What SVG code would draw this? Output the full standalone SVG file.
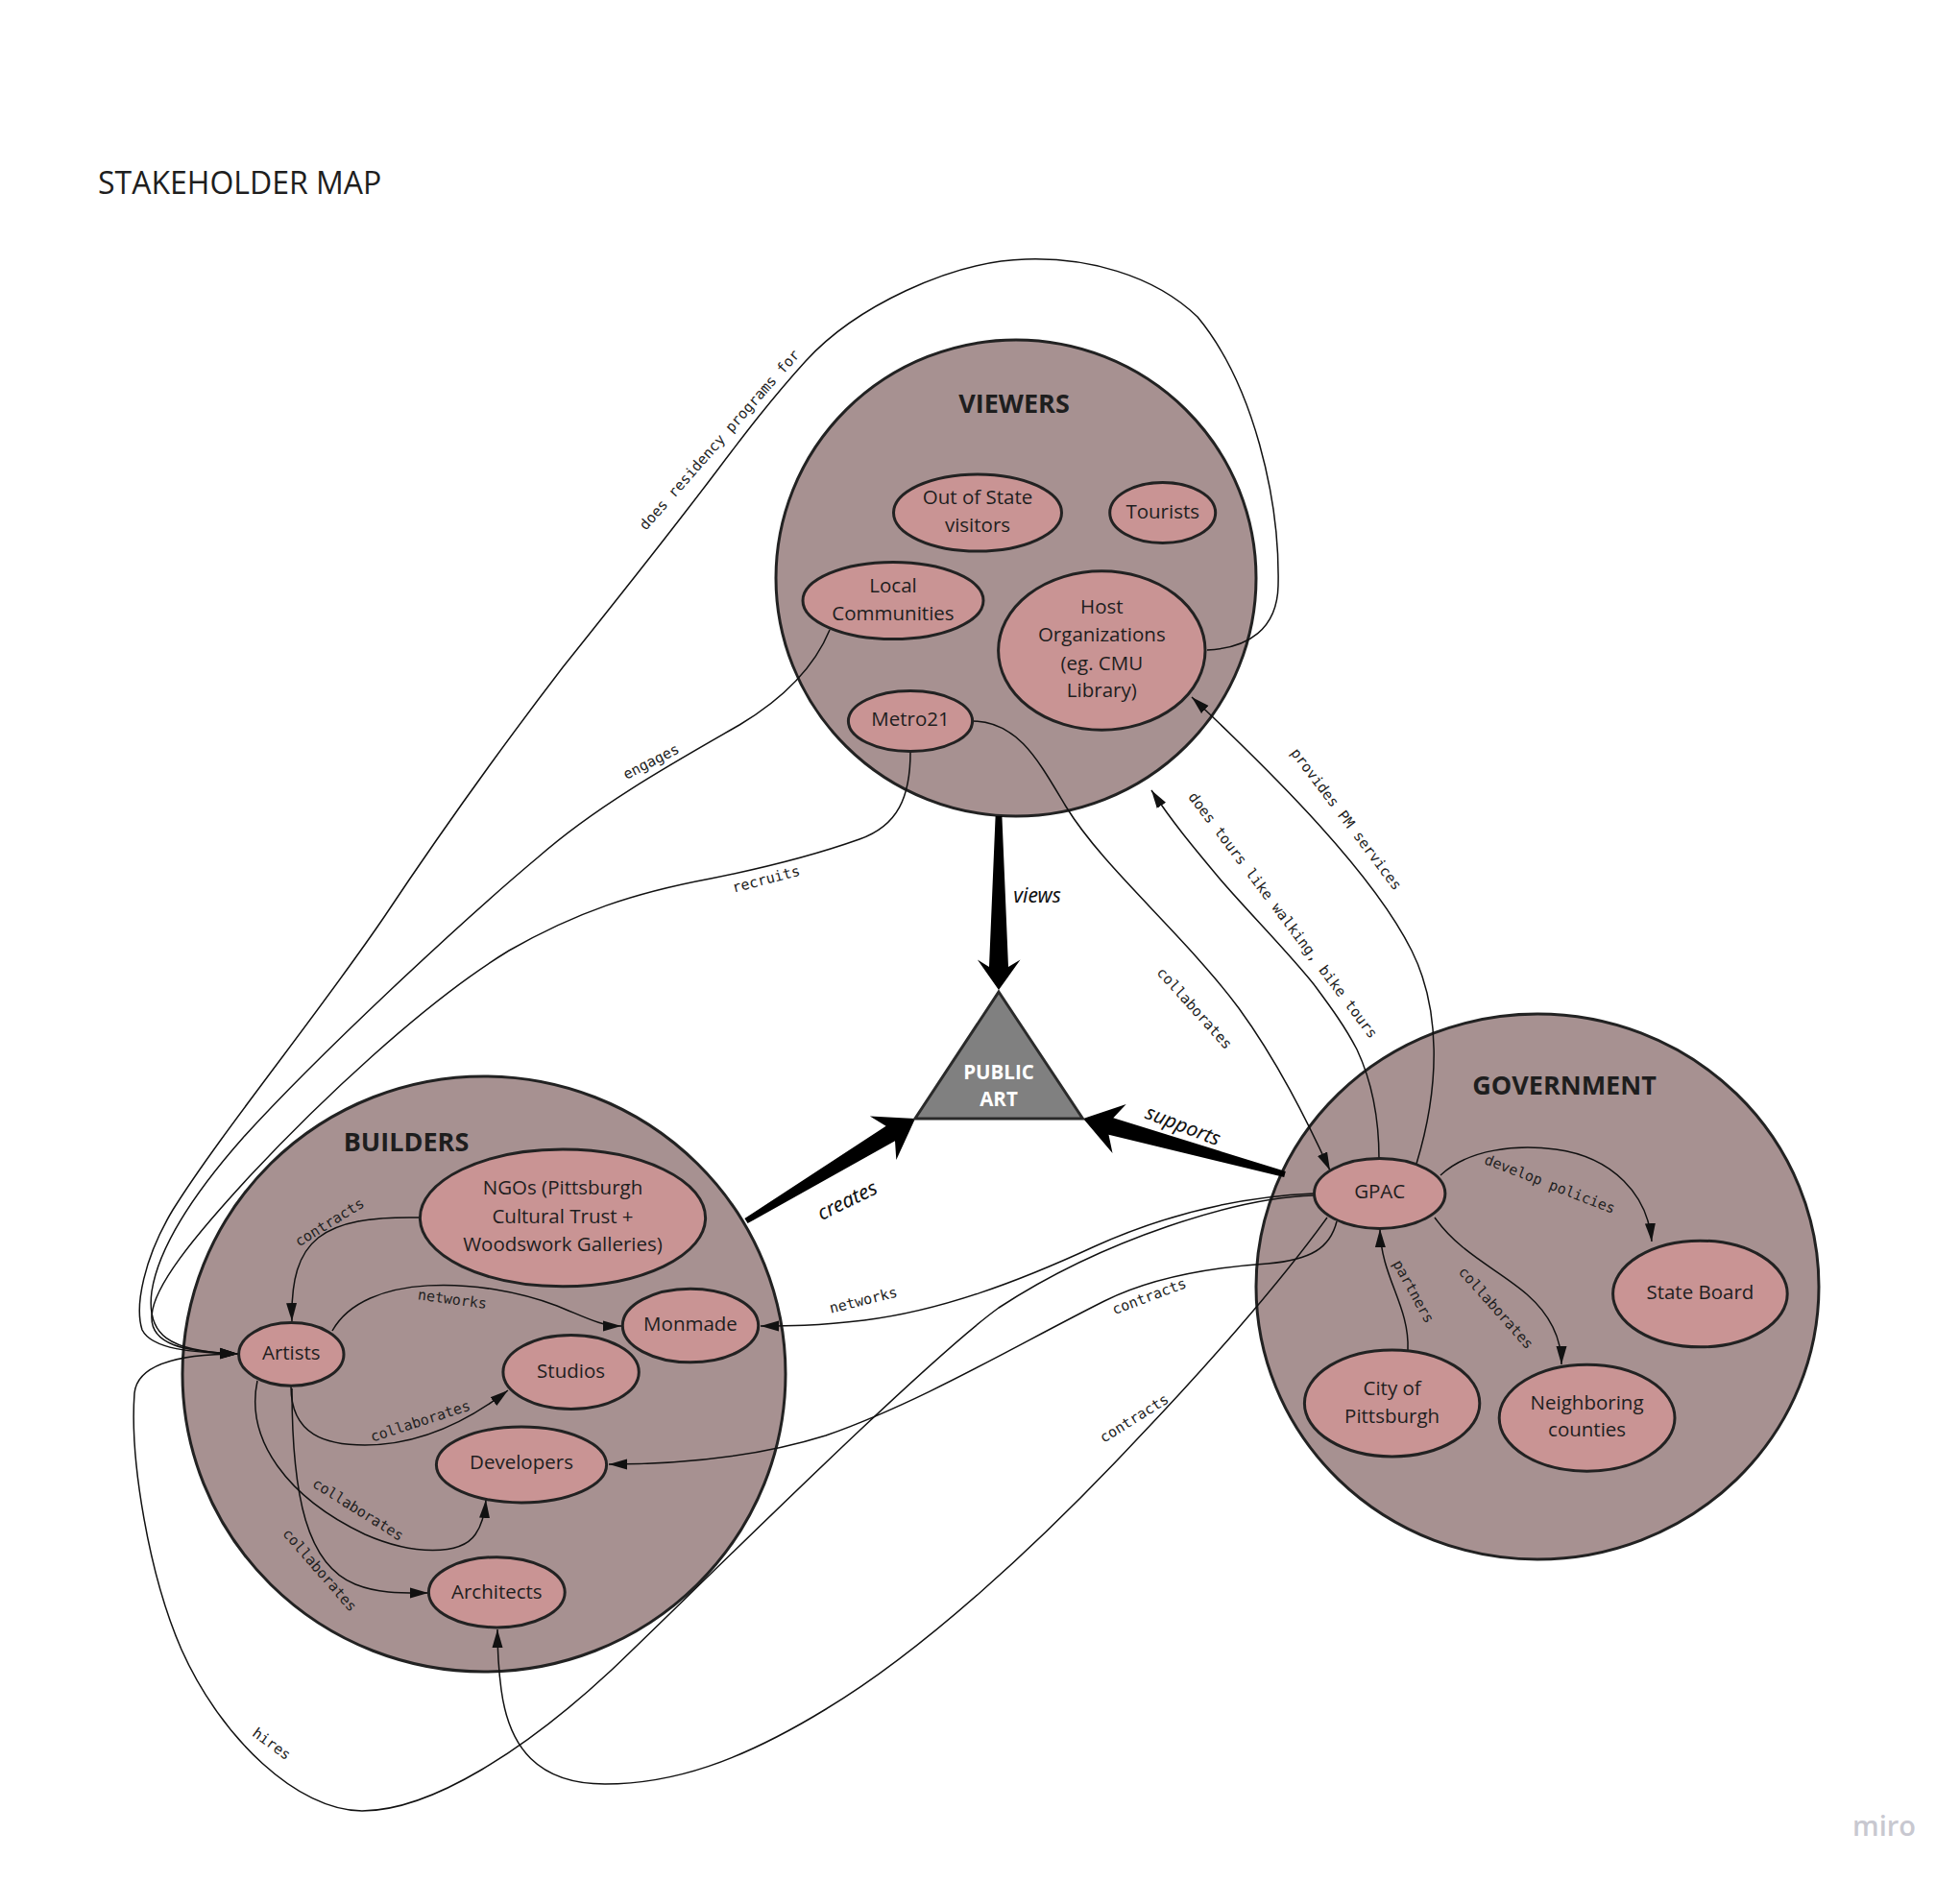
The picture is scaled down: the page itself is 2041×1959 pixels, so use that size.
<svg xmlns="http://www.w3.org/2000/svg" width="2041" height="1959" viewBox="0 0 2041 1959">
<defs>
<style>
.bg{fill:#ffffff}
.zone{fill:#a79191;stroke:#222;stroke-width:3}
.node{fill:#c99494;stroke:#222;stroke-width:3}
.zt{font-family:'Open Sans','Liberation Sans',sans-serif;font-weight:700;font-size:27px;fill:#1e1e1e;text-anchor:middle}
.nt{font-family:'Open Sans','Liberation Sans',sans-serif;font-size:20.5px;fill:#1e1e1e;text-anchor:middle}
.title{font-family:'Open Sans','Liberation Sans',sans-serif;font-size:32px;fill:#1e1e1e}
.edge{fill:none;stroke:#111;stroke-width:1.5}
.arr{marker-end:url(#ah)}
.lbl{font-family:'DejaVu Sans Mono','Liberation Mono',monospace;font-size:15px;fill:#222;text-anchor:middle}
.hand{font-family:'Noto Sans','DejaVu Sans',sans-serif;font-style:italic;font-size:21px;fill:#111;text-anchor:middle}
.big{fill:#000}
.tri{fill:#808080;stroke:#2a2a2a;stroke-width:3;stroke-linejoin:miter}
.tt{font-family:'Open Sans','Liberation Sans',sans-serif;font-weight:700;font-size:20.5px;fill:#ffffff;text-anchor:middle}
.wm{font-family:'Open Sans','Liberation Sans',sans-serif;font-weight:600;font-size:29px;fill:#c8c8d0;text-anchor:middle}
</style>
<marker id="ah" markerUnits="userSpaceOnUse" markerWidth="19" markerHeight="13" viewBox="0 0 19 13" refX="19" refY="6.5" orient="auto">
<path d="M0,1 L19,6.5 L0,12 Z" fill="#111"/>
</marker>
</defs>
<rect class="bg" x="0" y="0" width="2041" height="1959"/>
<text class="title" x="102" y="202">STAKEHOLDER MAP</text>

<g id="zone-viewers">
<ellipse class="zone" cx="1058" cy="602" rx="250" ry="248"/>
<text class="zt" x="1056" y="430">VIEWERS</text>
</g>
<g id="zone-builders">
<ellipse class="zone" cx="504" cy="1431" rx="314" ry="310"/>
<text class="zt" x="423" y="1199">BUILDERS</text>
</g>
<g id="zone-government">
<ellipse class="zone" cx="1601" cy="1340" rx="293" ry="284"/>
<text class="zt" x="1629" y="1140">GOVERNMENT</text>
</g>

<g id="connectors">
<!-- thick arrows -->
<polygon class="big" points="1036.6,850 1043.4,850 1050,1007 1062.5,999.6 1040,1031 1017.9,999.6 1030,1007"/>
<polygon class="big" points="775.4,1268.9 922.6,1172.8 905.9,1162.5 953,1165 933.3,1207.9 932,1188.2 778.6,1274.1"/>
<polygon class="big" points="1338.8,1220.1 1159.3,1164.3 1172.7,1149.9 1128,1165 1158.5,1200.9 1154.5,1181.7 1337.2,1225.9"/>
<text class="hand" x="1080" y="940">views</text>
<text class="hand" transform="translate(882,1250) rotate(-26)" dy="0.35em">creates</text>
<text class="hand" transform="translate(1232,1172) rotate(21)" dy="0.35em">supports</text>

<!-- builders internal -->
<path class="edge arr" d="M437,1268 C335,1266 302,1290 304,1376"/>
<text class="lbl" transform="translate(343,1273) rotate(-31.7)" dy="0.35em">contracts</text>
<path class="edge arr" d="M346,1386 C380,1325 500,1330 580,1360 C610,1372 625,1381 647,1381"/>
<text class="lbl" transform="translate(471,1353) rotate(7.7)" dy="0.35em">networks</text>
<path class="edge arr" d="M303,1444 C303,1495 340,1505 380,1505 C440,1505 490,1478 529,1448"/>
<text class="lbl" transform="translate(437.6,1480) rotate(-18)" dy="0.35em">collaborates</text>
<path class="edge arr" d="M268,1438 C255,1500 300,1560 380,1598 C430,1620 480,1620 495,1598 C502,1588 505,1575 506,1562"/>
<text class="lbl" transform="translate(373,1572) rotate(32)" dy="0.35em">collaborates</text>
<path class="edge arr" d="M304,1446 C304,1560 320,1630 370,1650 C395,1660 420,1659 446,1659"/>
<text class="lbl" transform="translate(333,1635) rotate(49)" dy="0.35em">collaborates</text>

<!-- viewers to artists -->
<path class="edge arr" d="M864,656 C850,690 820,725 770,755 C700,795 620,840 560,893 C480,960 330,1100 253,1185 C200,1245 165,1300 158,1345 C152,1390 175,1408 248,1410"/>
<text class="lbl" transform="translate(678,793) rotate(-27)" dy="0.35em">engages</text>
<path class="edge arr" d="M948,783 C948,830 935,860 895,874 C850,890 790,905 740,915 C660,930 600,950 530,990 C440,1045 330,1150 260,1225 C200,1290 160,1340 158,1370 C156,1400 190,1408 248,1410"/>
<text class="lbl" transform="translate(797.7,915.5) rotate(-14.6)" dy="0.35em">recruits</text>
<path class="edge arr" d="M1257,677 C1300,675 1330,655 1331,610 C1333,520 1305,400 1247,330 C1200,285 1130,268 1068,270 C990,272 890,320 839,376 C790,430 755,480 720,525 C670,590 630,640 586,695 C540,755 470,850 400,955 C330,1058 230,1180 180,1260 C150,1310 140,1360 148,1385 C158,1405 200,1409 248,1410"/>
<text class="lbl" transform="translate(749,458) rotate(-48.7)" dy="0.35em">does residency programs for</text>

<!-- viewers / government -->
<path class="edge arr" d="M1013,751 C1060,752 1080,790 1110,840 C1150,905 1230,970 1290,1050 C1330,1105 1360,1165 1385,1219"/>
<text class="lbl" transform="translate(1244,1050) rotate(48)" dy="0.35em">collaborates</text>
<path class="edge arr" d="M1436,1207 C1436,1160 1428,1125 1413,1093 C1400,1068 1385,1048 1368,1025 C1340,990 1300,950 1270,915 C1245,885 1222,858 1199,823"/>
<text class="lbl" transform="translate(1336,953) rotate(53)" dy="0.35em">does tours like walking, bike tours</text>
<path class="edge arr" d="M1475,1212 C1500,1130 1500,1050 1470,990 C1430,910 1330,810 1241,726"/>
<text class="lbl" transform="translate(1402,853) rotate(53)" dy="0.35em">provides PM services</text>

<!-- government internal -->
<path class="edge arr" d="M1500,1224 C1530,1196 1580,1192 1620,1197 C1680,1205 1716,1245 1720,1293"/>
<text class="lbl" transform="translate(1614,1233) rotate(21.3)" dy="0.35em">develop policies</text>
<path class="edge arr" d="M1494,1268 C1520,1305 1560,1322 1590,1348 C1615,1370 1626,1395 1626,1421"/>
<text class="lbl" transform="translate(1558,1362) rotate(48.4)" dy="0.35em">collaborates</text>
<path class="edge arr" d="M1466,1406 C1468,1360 1438,1330 1437,1280"/>
<text class="lbl" transform="translate(1472,1345) rotate(61.2)" dy="0.35em">partners</text>

<!-- government to builders -->
<path class="edge arr" d="M1368,1243 C1300,1246 1220,1262 1140,1298 C1060,1335 980,1365 900,1375 C850,1381 820,1381 792,1381"/>
<text class="lbl" transform="translate(899,1354) rotate(-14)" dy="0.35em">networks</text>
<path class="edge arr" d="M1392,1272 C1385,1300 1365,1312 1320,1316 C1260,1320 1200,1330 1150,1355 C1060,1400 960,1460 860,1495 C780,1520 700,1525 634,1525"/>
<text class="lbl" transform="translate(1196.7,1350) rotate(-20.7)" dy="0.35em">contracts</text>
<path class="edge arr" d="M1382,1268 C1330,1340 1250,1430 1183,1500 C1080,1610 960,1720 860,1780 C770,1835 700,1858 630,1858 C560,1858 530,1820 522,1760 C518,1730 518,1710 518,1697"/>
<text class="lbl" transform="translate(1181,1477) rotate(-32)" dy="0.35em">contracts</text>
<path class="edge arr" d="M1368,1245 C1290,1247 1150,1290 1040,1362 C960,1420 720,1660 636,1740 C550,1820 450,1886 377,1886 C310,1886 230,1810 189,1718 C155,1640 135,1520 140,1451 C143,1420 190,1410 248,1410"/>
<text class="lbl" transform="translate(283,1816) rotate(36)" dy="0.35em">hires</text>
</g>

<g id="node-out-of-state">
<ellipse class="node" cx="1018" cy="534" rx="87.5" ry="40"/>
<text class="nt" x="1018" y="525">Out of State</text>
<text class="nt" x="1018" y="553.5">visitors</text>
</g>
<g id="node-tourists">
<ellipse class="node" cx="1210.7" cy="534" rx="55" ry="31.5"/>
<text class="nt" x="1210.7" y="540.4">Tourists</text>
</g>
<g id="node-local-communities">
<ellipse class="node" cx="930" cy="625.5" rx="94" ry="40"/>
<text class="nt" x="930" y="617.2">Local</text>
<text class="nt" x="930" y="645.8">Communities</text>
</g>
<g id="node-host-organizations">
<ellipse class="node" cx="1147.3" cy="677.5" rx="107.7" ry="82.7"/>
<text class="nt" x="1147.3" y="638.6">Host</text>
<text class="nt" x="1147.3" y="667.9">Organizations</text>
<text class="nt" x="1147.3" y="698.2">(eg. CMU</text>
<text class="nt" x="1147.3" y="726.4">Library)</text>
</g>
<g id="node-metro21">
<ellipse class="node" cx="948" cy="751" rx="64.6" ry="31.5"/>
<text class="nt" x="948" y="756">Metro21</text>
</g>

<g id="node-ngos">
<ellipse class="node" cx="586" cy="1268.4" rx="148.6" ry="71.3"/>
<text class="nt" x="586" y="1244">NGOs (Pittsburgh</text>
<text class="nt" x="586" y="1273.6">Cultural Trust +</text>
<text class="nt" x="586" y="1303">Woodswork Galleries)</text>
</g>
<g id="node-artists">
<ellipse class="node" cx="303.3" cy="1410.4" rx="54.7" ry="32.8"/>
<text class="nt" x="303.3" y="1415.9">Artists</text>
</g>
<g id="node-monmade">
<ellipse class="node" cx="719" cy="1380.5" rx="70.7" ry="38.3"/>
<text class="nt" x="719" y="1386">Monmade</text>
</g>
<g id="node-studios">
<ellipse class="node" cx="594.6" cy="1429" rx="70.7" ry="38.5"/>
<text class="nt" x="594.6" y="1434.8">Studios</text>
</g>
<g id="node-developers">
<ellipse class="node" cx="543" cy="1525.5" rx="88.6" ry="39.4"/>
<text class="nt" x="543" y="1530">Developers</text>
</g>
<g id="node-architects">
<ellipse class="node" cx="517.3" cy="1658.3" rx="70.9" ry="36.6"/>
<text class="nt" x="517.3" y="1665">Architects</text>
</g>

<g id="node-gpac">
<ellipse class="node" cx="1436.7" cy="1243" rx="68.2" ry="36.4"/>
<text class="nt" x="1436.7" y="1248.2">GPAC</text>
</g>
<g id="node-state-board">
<ellipse class="node" cx="1770.4" cy="1347.5" rx="90.8" ry="55.3"/>
<text class="nt" x="1770.4" y="1353">State Board</text>
</g>
<g id="node-city">
<ellipse class="node" cx="1449.6" cy="1461.4" rx="91.2" ry="55.5"/>
<text class="nt" x="1449.6" y="1452.6">City of</text>
<text class="nt" x="1449.6" y="1481.7">Pittsburgh</text>
</g>
<g id="node-neighboring">
<ellipse class="node" cx="1652.6" cy="1476.7" rx="91.4" ry="55.5"/>
<text class="nt" x="1652.6" y="1468.3">Neighboring</text>
<text class="nt" x="1652.6" y="1495.9">counties</text>
</g>

<g id="node-public-art">
<polygon class="tri" points="1040,1033 1127.5,1165 952.9,1165"/>
<text class="tt" x="1040" y="1124">PUBLIC</text>
<text class="tt" x="1040" y="1152.3">ART</text>
</g>

<text class="wm" x="1962" y="1912">miro</text>
</svg>
